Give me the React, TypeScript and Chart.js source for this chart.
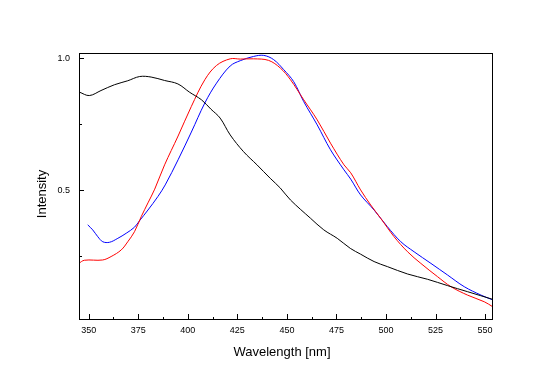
import React, { useEffect, useRef } from "react";
import { Chart, registerables } from "chart.js";

Chart.register(...registerables);

// ---- data ----
const xMajorTicks = [350, 375, 400, 425, 450, 475, 500, 525, 550];
const xMinorTicks = [362.5, 387.5, 412.5, 437.5, 462.5, 487.5, 512.5, 537.5];
const yMajorTicks = [0.5, 1.0];
const yMinorTicks = [0.25, 0.75];

const blackX = [345.3, 350.3, 356.2, 363, 369.7, 375.7, 381.5, 388.3, 395, 401, 406.9, 411.6, 416.3, 421.4, 428.1, 434.9, 441.6, 446.7, 451.8, 461.9, 468.6, 475.4, 482, 487.2, 494, 500.7, 510.9, 521, 531.1, 541.2, 553.9];
const blackY = [0.871, 0.858, 0.877, 0.899, 0.914, 0.93, 0.928, 0.915, 0.902, 0.87, 0.842, 0.807, 0.773, 0.709, 0.646, 0.596, 0.545, 0.508, 0.463, 0.394, 0.35, 0.318, 0.28, 0.258, 0.23, 0.211, 0.183, 0.163, 0.139, 0.116, 0.087];

const redX = [345, 347.8, 357, 361.3, 366.4, 369.7, 373.1, 376.5, 379.9, 383.3, 388.3, 395.1, 401.8, 408.6, 414.5, 421.4, 426.5, 433.2, 440.8, 446.7, 451.8, 458.5, 465.3, 472, 478.8, 482.2, 487.2, 492.3, 497.3, 504.1, 510.9, 517.6, 526, 532.8, 541.2, 549.6, 553.9];
const redY = [0.223, 0.235, 0.236, 0.249, 0.274, 0.305, 0.343, 0.4, 0.452, 0.504, 0.596, 0.705, 0.817, 0.918, 0.972, 0.997, 0.996, 0.997, 0.991, 0.962, 0.918, 0.842, 0.766, 0.678, 0.596, 0.566, 0.501, 0.444, 0.394, 0.324, 0.267, 0.223, 0.173, 0.135, 0.103, 0.078, 0.059];

const blueX = [349.5, 352, 354.6, 357.1, 360.5, 364.7, 368.9, 373.1, 375.7, 379.9, 384.9, 388.6, 395.1, 401.8, 408.6, 414.5, 421.4, 426.5, 433.2, 438.3, 443.3, 448.4, 453.4, 458.5, 465.3, 472, 478.8, 482.2, 487.2, 494, 500.7, 507.5, 514.2, 522.7, 531.1, 539.5, 548, 553.9];
const blueY = [0.369, 0.35, 0.324, 0.305, 0.303, 0.318, 0.337, 0.36, 0.385, 0.425, 0.476, 0.52, 0.615, 0.72, 0.83, 0.905, 0.97, 0.99, 1.006, 1.01, 0.994, 0.956, 0.911, 0.835, 0.747, 0.653, 0.577, 0.542, 0.482, 0.425, 0.362, 0.305, 0.267, 0.223, 0.179, 0.135, 0.103, 0.085];

const xTitle = "Wavelength [nm]";
const yTitle = "Intensity";

const toPoints = (xs: number[], ys: number[]) => xs.map((x, i) => ({ x, y: ys[i] }));

const FONT = '"Liberation Sans", Arial, sans-serif';

const framePlugin = {
  id: "frameTicks",
  afterDraw(chart: any) {
    const { ctx, chartArea, scales } = chart;
    const { left, top, right, bottom } = chartArea;
    const xs = scales.x;
    const ys = scales.y;
    ctx.save();
    ctx.strokeStyle = "#000";
    ctx.lineWidth = 1;
    ctx.strokeRect(left + 0.5, top + 0.5, right - left - 1, bottom - top - 1);
    ctx.beginPath();
    const xt = (v: number, len: number) => {
      const px = Math.round(xs.getPixelForValue(v)) + 0.5;
      ctx.moveTo(px, bottom - 1);
      ctx.lineTo(px, bottom - 1 - len);
    };
    const yt = (v: number, len: number) => {
      const py = Math.round(ys.getPixelForValue(v)) + 0.5;
      ctx.moveTo(left + 1, py);
      ctx.lineTo(left + 1 + len, py);
    };
    xMajorTicks.forEach((v) => xt(v, 5));
    xMinorTicks.forEach((v) => xt(v, 2));
    yMajorTicks.forEach((v) => yt(v, 4));
    yMinorTicks.forEach((v) => yt(v, 2));
    ctx.stroke();

    ctx.fillStyle = "#000";
    ctx.font = `13px ${FONT}`;
    ctx.textAlign = "center";
    ctx.textBaseline = "middle";
    ctx.fillText(xTitle, 282, 352);
    ctx.translate(42, 194);
    ctx.rotate(-Math.PI / 2);
    ctx.fillText(yTitle, 0, 0);
    ctx.restore();
  },
};

export default function App() {
  const ref = useRef<HTMLCanvasElement | null>(null);
  useEffect(() => {
    if (!ref.current) return;
    const line = (data: any, color: string) => ({
      data,
      borderColor: color,
      backgroundColor: color,
      borderWidth: 1,
      pointRadius: 0,
      fill: false,
      tension: 0.35,
    });
    const chart = new Chart(ref.current, {
      type: "line",
      data: {
        datasets: [
          line(toPoints(blackX, blackY), "#000000"),
          line(toPoints(redX, redY), "#ff0000"),
          line(toPoints(blueX, blueY), "#0000ff"),
        ],
      },
      options: {
        animation: false,
        responsive: false,
        devicePixelRatio: 1,
        layout: { padding: { top: 53, right: 49, left: 0, bottom: 0 } },
        plugins: { legend: { display: false }, tooltip: { enabled: false } },
        scales: {
          x: {
            type: "linear",
            min: 345.1,
            max: 554,
            grid: { display: false, drawTicks: false },
            border: { display: false },
            ticks: {
              color: "#000",
              font: { family: FONT, size: 9 },
              padding: 5,
              maxRotation: 0,
              autoSkip: false,
              callback: (v: any) => String(v),
            },
            afterBuildTicks: (s: any) => {
              s.ticks = xMajorTicks.map((value) => ({ value }));
            },
            afterFit: (s: any) => {
              s.height = 58;
            },
          },
          y: {
            type: "linear",
            min: 0.009,
            max: 1.019,
            grid: { display: false, drawTicks: false },
            border: { display: false },
            ticks: {
              color: "#000",
              font: { family: FONT, size: 9 },
              padding: 9,
              autoSkip: false,
              callback: (v: any) => Number(v).toFixed(1),
            },
            afterBuildTicks: (s: any) => {
              s.ticks = yMajorTicks.map((value) => ({ value }));
            },
            afterFit: (s: any) => {
              s.width = 79;
            },
          },
        },
      },
      plugins: [framePlugin],
    });
    return () => chart.destroy();
  }, []);
  return (
    <div style={{ position: "fixed", left: 0, top: 0, width: 542, height: 378, background: "#fff" }}>
      <canvas ref={ref} width={542} height={378} style={{ display: "block" }} />
    </div>
  );
}
